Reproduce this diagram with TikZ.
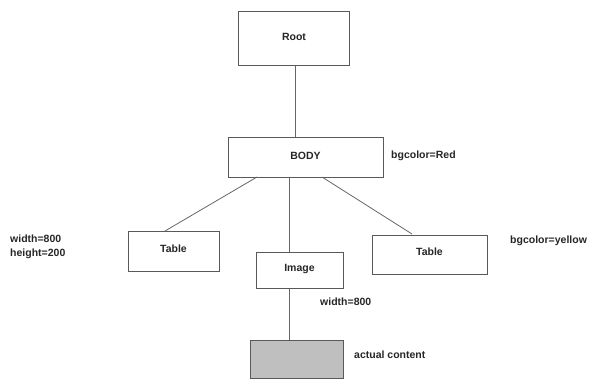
\documentclass[tikz,border=0pt]{standalone}
\usepackage{fontspec}
\setmainfont{Liberation Sans}
\begin{document}
\begin{tikzpicture}[x=1pt,y=-1pt,
  box/.style={draw=black!65,line width=1pt,inner sep=0pt},
  lab/.style={font=\fontsize{10.5}{13.5}\selectfont\bfseries,text=black!85,inner sep=0pt},
  conn/.style={draw=black!60,line width=0.8pt}]
\useasboundingbox (0,0) rectangle (594,381);
\node[box,minimum width=111pt,minimum height=54pt] (root) at (293.5,38.5) {};
\node[lab] at (294,37) {Root};
\node[box,minimum width=155pt,minimum height=40pt] (body) at (305.5,157) {};
\node[lab] at (305.5,156) {BODY};
\node[lab,anchor=west] (red) at (391,156) {bgcolor=Red};
\node[box,minimum width=91pt,minimum height=40pt] (tl) at (173.5,251) {};
\node[lab] at (173.5,249) {Table};
\node[box,minimum width=87pt,minimum height=36pt] (img) at (299.5,270) {};
\node[lab] at (299.5,269) {Image};
\node[box,minimum width=115pt,minimum height=39pt] (tr) at (429.5,254.5) {};
\node[lab] at (429.5,252) {Table};
\node[lab,anchor=west] (yel) at (510,241) {bgcolor=yellow};
\node[lab,anchor=west,align=left] (wh) at (10,247) {width=800\\height=200};
\node[lab,anchor=west] (w8) at (320,302) {width=800};
\node[box,fill=black!25,minimum width=93pt,minimum height=38pt] (gray) at (296.5,359) {};
\node[lab,anchor=west] (ac) at (354,355) {actual content};
\coordinate (b1) at (257,177);
\coordinate (b2) at (289,177);
\coordinate (b3) at (322,177);
\coordinate (t1) at (165,231);
\coordinate (t3) at (412,234);
\draw[conn] (root.south -| 295,0) -- (body.north -| 295,0);
\draw[conn] (b1) -- (t1);
\draw[conn] (b2) -- (img.north -| b2);
\draw[conn] (b3) -- (t3);
\draw[conn] (img.south -| b2) -- (gray.north -| b2);
\end{tikzpicture}
\end{document}
